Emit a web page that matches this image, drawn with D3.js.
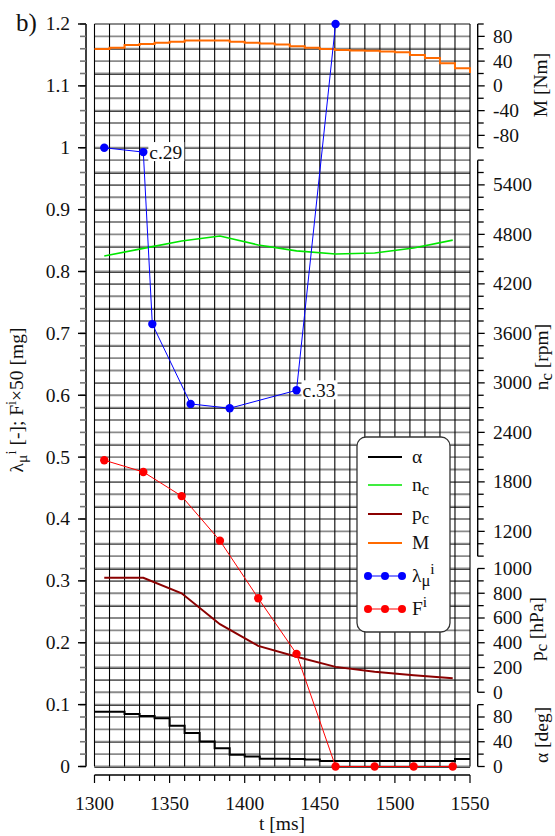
<!DOCTYPE html>
<html>
<head>
<meta charset="utf-8">
<script src="https://cdn.jsdelivr.net/npm/d3@7"></script>
<style>
  body { margin: 0; background: #fff; }
  text { font-family: "Liberation Serif", "Times New Roman", serif; fill: #111; }
</style>
</head>
<body>
<svg id="chart" width="555" height="836"></svg>
<script>
// --------------------------
// DATA
// --------------------------
// 10 ms sampled signals (step plots)
const stepT = [1300, 1310, 1320, 1330, 1340, 1350, 1360, 1370, 1380, 1390, 1400, 1410, 1420,
               1430, 1440, 1450, 1460, 1470, 1480, 1490, 1500, 1510, 1520, 1530, 1540, 1550];
const alphaDeg = [88.5, 88.5, 85, 81.5, 78, 66, 54, 40.5, 29.5, 19, 16, 12.5, 12.5,
                  12, 11.5, 9, 9, 9, 9, 9, 9, 9, 9, 9, 12, 12];
const torqueNm = [59.6, 61.7, 66, 67.5, 69.7, 71.2, 73.5, 73.5, 73.5, 71.3, 69.7, 68.5, 67,
                  64.2, 61.6, 59.5, 57.8, 57.3, 56.8, 55.5, 54.3, 50, 45, 36.5, 28.5, 21];

// per-cycle values
const cycleT = [1306.5, 1332.5, 1358, 1383.5, 1409, 1434.5, 1460.5, 1486.5, 1512.5, 1538.5];
const ncRpm = [4538, 4630, 4720, 4780, 4672, 4600, 4563, 4575, 4635, 4730];
const pcHpa = [925, 925, 800, 550, 375, 287, 205, 165, 138, 113];
const fValues = [0.495, 0.476, 0.437, 0.365, 0.272, 0.182, 0, 0, 0, 0];

const lambdaT = [1306.5, 1332.5, 1338.5, 1364, 1390, 1434.5, 1460.5];
const lambdaValues = [1.0, 0.993, 0.715, 0.586, 0.579, 0.608, 1.2];
const lambdaNotes = [{ i: 1, text: "c.29" }, { i: 5, text: "c.33" }];

const leftTicks = [0, 0.1, 0.2, 0.3, 0.4, 0.5, 0.6, 0.7, 0.8, 0.9, 1, 1.1, 1.2];
const xTicks = [1300, 1350, 1400, 1450, 1500, 1550];

// --------------------------
// SCALES
// --------------------------
const svg = d3.select("#chart");
const FS = 19.5;

const x = d3.scaleLinear().domain([1300, 1550]).range([94.5, 470]);
const y = d3.scaleLinear().domain([0, 1.2]).range([766.5, 24]);

// stacked right axes, each mapped onto a band of the left axis
const rightAxes = [
    { scale: d3.scaleLinear().domain([-100, 100]).range([y(1.0), y(1.2)]), minor: 20, labels: [-80, -40, 0, 40, 80] },
    { scale: d3.scaleLinear().domain([900, 5700]).range([y(0.34), y(0.98)]), minor: 150, labels: [1200, 1800, 2400, 3000, 3600, 4200, 4800, 5400] },
    { scale: d3.scaleLinear().domain([0, 1000]).range([y(0.12), y(0.32)]), minor: 100, labels: [0, 200, 400, 600, 800, 1000] },
    { scale: d3.scaleLinear().domain([0, 100]).range([y(0), y(0.1)]), minor: 20, labels: [0, 40, 80] }
];
const yM = rightAxes[0].scale, yN = rightAxes[1].scale, yP = rightAxes[2].scale, yA = rightAxes[3].scale;

// --------------------------
// GRID
// --------------------------
const grid = svg.append("g");
const leftMinor = d3.range(0, 61).map(i => i * 0.02);

// black grid from the right-hand axes
rightAxes.forEach(ax => {
    const [lo, hi] = ax.scale.domain();
    const vals = d3.range(lo, hi + ax.minor / 2, ax.minor);
    grid.append("g").selectAll("line")
        .data(vals)
        .enter().append("line")
        .attr("x1", x(1300)).attr("x2", x(1550))
        .attr("y1", d => Math.round(ax.scale(d)) + 0.5).attr("y2", d => Math.round(ax.scale(d)) + 0.5)
        .attr("stroke", "#000").attr("stroke-width", 1);
});

// grey grid from the left axis
grid.selectAll("line.hg")
    .data(leftMinor)
    .enter().append("line")
    .attr("x1", x(1300)).attr("x2", x(1550))
    .attr("y1", d => y(d)).attr("y2", d => y(d))
    .attr("stroke", "#8a8a8a").attr("stroke-width", 1.8);

grid.selectAll("line.vg")
    .data(d3.range(1300, 1551, 10))
    .enter().append("line")
    .attr("x1", d => x(d)).attr("x2", d => x(d))
    .attr("y1", y(1.2)).attr("y2", y(0))
    .attr("stroke", "#000").attr("stroke-width", 1.1);

// --------------------------
// LEFT AXIS
// --------------------------
const axL = svg.append("g");
axL.append("line").attr("x1", 86).attr("x2", 86).attr("y1", y(1.2)).attr("y2", y(0))
    .attr("stroke", "#000").attr("stroke-width", 1.5);
axL.selectAll("line.mt").data(leftMinor).enter().append("line")
    .attr("x1", 80).attr("x2", 86)
    .attr("y1", d => y(d)).attr("y2", d => y(d))
    .attr("stroke", "#777").attr("stroke-width", 1.6);
axL.selectAll("line.Mt").data(leftTicks).enter().append("line")
    .attr("x1", 78).attr("x2", 86)
    .attr("y1", d => y(d)).attr("y2", d => y(d))
    .attr("stroke", "#000").attr("stroke-width", 1.4);
axL.selectAll("text").data(leftTicks).enter().append("text")
    .attr("x", 70).attr("y", d => y(d)).attr("dy", "0.33em")
    .attr("text-anchor", "end").attr("font-size", FS)
    .text(d => String(+d.toFixed(1)));

// left title: λμi [-]; Fi×50 [mg]
const lt = svg.append("text")
    .attr("transform", `translate(23,${400}) rotate(-90)`)
    .attr("text-anchor", "middle").attr("font-size", FS);
lt.append("tspan").text("λ");
lt.append("tspan").attr("font-size", FS * 0.8).attr("dy", 4).text("μ");
lt.append("tspan").attr("font-size", FS * 0.75).attr("dy", -11).text("i");
lt.append("tspan").attr("dy", 7).text(" [-]; F");
lt.append("tspan").attr("font-size", FS * 0.75).attr("dy", -7).text("i");
lt.append("tspan").attr("dy", 7).text("×50 [mg]");

// --------------------------
// BOTTOM AXIS
// --------------------------
const axB = svg.append("g");
axB.append("line").attr("x1", x(1300)).attr("x2", x(1550)).attr("y1", 775).attr("y2", 775)
    .attr("stroke", "#000").attr("stroke-width", 1.5);
axB.selectAll("line.t").data(d3.range(1300, 1551, 10)).enter().append("line")
    .attr("x1", d => x(d)).attr("x2", d => x(d))
    .attr("y1", 775).attr("y2", d => d % 50 === 0 ? 783 : 781)
    .attr("stroke", "#000").attr("stroke-width", 1.2);
axB.selectAll("text").data(xTicks).enter().append("text")
    .attr("x", d => x(d)).attr("y", 810)
    .attr("text-anchor", "middle").attr("font-size", FS)
    .text(d => d);
svg.append("text").attr("x", 282).attr("y", 830).attr("text-anchor", "middle")
    .attr("font-size", FS).text("t [ms]");

// --------------------------
// RIGHT AXES
// --------------------------
const AX_R = 477.7;
rightAxes.forEach(ax => {
    const g = svg.append("g");
    const [lo, hi] = ax.scale.domain();
    g.append("line").attr("x1", AX_R).attr("x2", AX_R)
        .attr("y1", ax.scale(lo)).attr("y2", ax.scale(hi))
        .attr("stroke", "#000").attr("stroke-width", 1.4);
    g.selectAll("line.t").data(d3.range(lo, hi + ax.minor / 2, ax.minor)).enter().append("line")
        .attr("x1", AX_R).attr("x2", d => ax.labels.includes(d) ? AX_R + 7 : AX_R + 6)
        .attr("y1", d => ax.scale(d)).attr("y2", d => ax.scale(d))
        .attr("stroke", "#000").attr("stroke-width", 1.3);
    g.selectAll("text").data(ax.labels).enter().append("text")
        .attr("x", 493).attr("y", d => ax.scale(d)).attr("dy", "0.33em")
        .attr("font-size", FS).text(d => d);
});

function sideTitle(cx, cy, parts) {
    const t = svg.append("text")
        .attr("transform", `translate(${cx},${cy}) rotate(-90)`)
        .attr("text-anchor", "middle").attr("dy", "0.33em").attr("font-size", FS);
    parts.forEach(p => {
        const s = t.append("tspan").text(p.t);
        if (p.sub) s.attr("font-size", FS * 0.85).attr("dy", 4);
        if (p.back) s.attr("dy", -4);
    });
}
sideTitle(541, 85, [{ t: "M [Nm]" }]);
sideTitle(542, 357, [{ t: "n" }, { t: "c", sub: true }, { t: " [rpm]", back: true }]);
sideTitle(537, 629, [{ t: "p" }, { t: "c", sub: true }, { t: " [hPa]", back: true }]);
sideTitle(542, 735, [{ t: "α [deg]" }]);

// --------------------------
// SERIES
// --------------------------
const plot = svg.append("g");

const stepLine = (ys) => d3.line()
    .curve(d3.curveStepAfter)
    .x((d, i) => x(stepT[i]))
    .y((d) => ys(d));

plot.append("path").datum(torqueNm)
    .attr("d", stepLine(yM))
    .attr("fill", "none").attr("stroke", "#ff6a00").attr("stroke-width", 2);

plot.append("path").datum(alphaDeg)
    .attr("d", stepLine(yA))
    .attr("fill", "none").attr("stroke", "#000").attr("stroke-width", 2);

plot.append("path").datum(ncRpm)
    .attr("d", d3.line().x((d, i) => x(cycleT[i])).y(d => yN(d)))
    .attr("fill", "none").attr("stroke", "#00e600").attr("stroke-width", 1.6);

plot.append("path").datum(pcHpa)
    .attr("d", d3.line().x((d, i) => x(cycleT[i])).y(d => yP(d)))
    .attr("fill", "none").attr("stroke", "#8b0000").attr("stroke-width", 2);

plot.append("path").datum(fValues)
    .attr("d", d3.line().x((d, i) => x(cycleT[i])).y(d => y(d)))
    .attr("fill", "none").attr("stroke", "#ff0000").attr("stroke-width", 1);
plot.selectAll("circle.f").data(fValues).enter().append("circle")
    .attr("cx", (d, i) => x(cycleT[i])).attr("cy", d => y(d)).attr("r", 4.2)
    .attr("fill", "#ff0000");

plot.append("path").datum(lambdaValues)
    .attr("d", d3.line().x((d, i) => x(lambdaT[i])).y(d => y(d)))
    .attr("fill", "none").attr("stroke", "#0000ff").attr("stroke-width", 1);
plot.selectAll("circle.l").data(lambdaValues).enter().append("circle")
    .attr("cx", (d, i) => x(lambdaT[i])).attr("cy", d => y(d)).attr("r", 4.2)
    .attr("fill", "#0000ff");

// cycle notes
lambdaNotes.forEach(n => {
    const nx = x(lambdaT[n.i]) + 5, ny = y(lambdaValues[n.i]);
    plot.append("rect").attr("x", nx).attr("y", ny - 10).attr("width", 36).attr("height", 19)
        .attr("fill", "#fff");
    plot.append("text").attr("x", nx + 1).attr("y", ny).attr("dy", "0.33em")
        .attr("font-size", FS).text(n.text);
});

// --------------------------
// LEGEND
// --------------------------
const leg = svg.append("g");
leg.append("rect").attr("x", 357).attr("y", 437).attr("width", 93).attr("height", 195)
    .attr("rx", 9).attr("fill", "#fff").attr("stroke", "#333").attr("stroke-width", 1.3);

const legendItems = [
    { label: [{ t: "α" }], color: "#000", w: 2, y: 457 },
    { label: [{ t: "n" }, { t: "c", sub: 1 }], color: "#00e600", w: 1.6, y: 485 },
    { label: [{ t: "p" }, { t: "c", sub: 1 }], color: "#8b0000", w: 2, y: 514 },
    { label: [{ t: "M" }], color: "#ff6a00", w: 2, y: 543 },
    { label: [{ t: "λ" }, { t: "μ", sub: 1 }, { t: "i", sup: 1 }], color: "#0000ff", w: 1, y: 576, dots: true },
    { label: [{ t: "F" }, { t: "i", sup: 1 }], color: "#ff0000", w: 1, y: 609, dots: true }
];
legendItems.forEach(it => {
    leg.append("line").attr("x1", 368).attr("x2", 402).attr("y1", it.y).attr("y2", it.y)
        .attr("stroke", it.color).attr("stroke-width", it.w);
    if (it.dots) {
        [368, 385, 402].forEach(cx => leg.append("circle").attr("cx", cx).attr("cy", it.y)
            .attr("r", 4).attr("fill", it.color));
    }
    const t = leg.append("text").attr("x", 412).attr("y", it.y).attr("dy", "0.33em")
        .attr("font-size", FS);
    let shift = 0;
    it.label.forEach(p => {
        const s = t.append("tspan").text(p.t);
        if (p.sub) { s.attr("font-size", FS * 0.85).attr("dy", 4 - shift); shift = 4; }
        else if (p.sup) { s.attr("font-size", FS * 0.8).attr("dy", -8 - shift); shift = -8; }
    });
});

// panel letter
svg.append("text").attr("x", 16).attr("y", 31).attr("font-size", 25).text("b)");
</script>
</body>
</html>
